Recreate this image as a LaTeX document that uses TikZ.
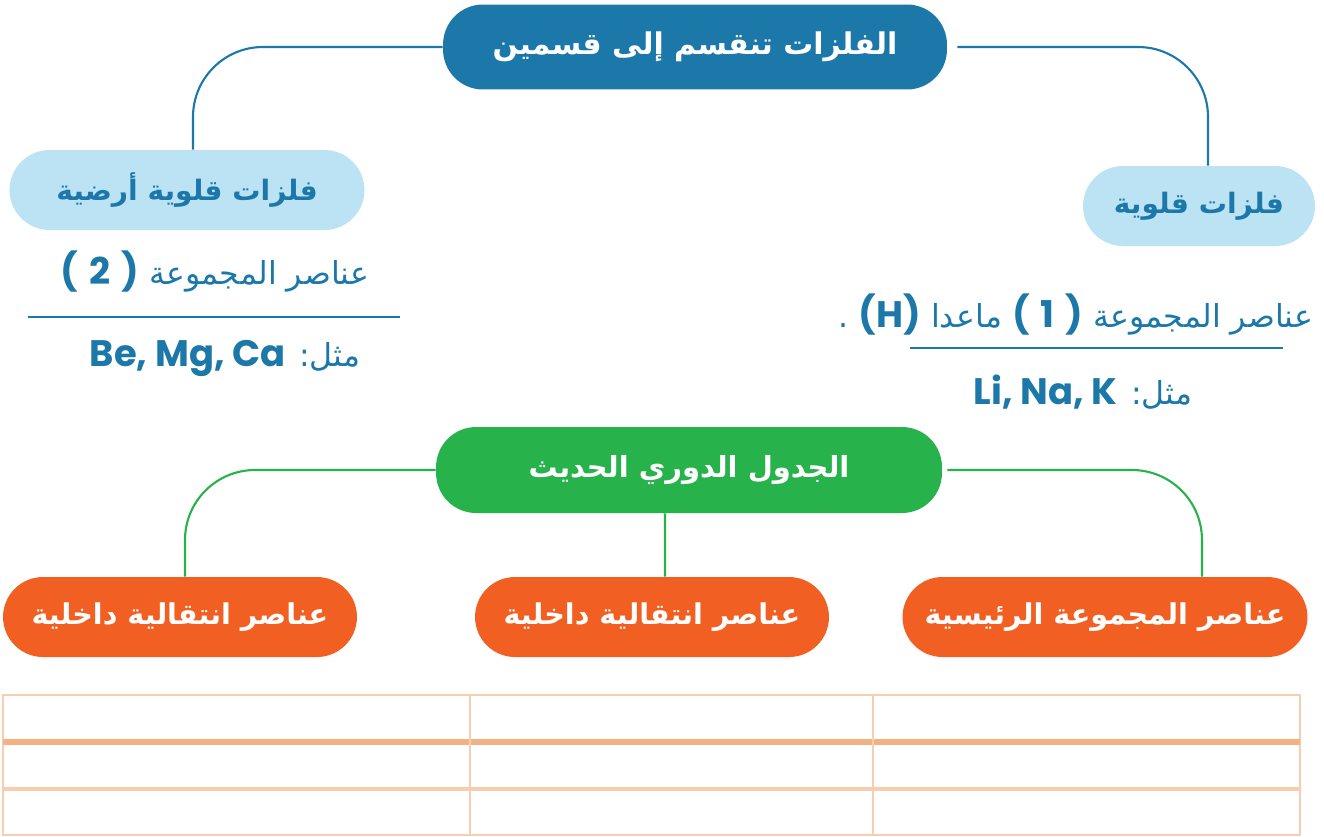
\documentclass[tikz,border=0pt]{standalone}
\usepackage{fontspec}
\usepackage{tikz}
\usetikzlibrary{positioning}
\TeXXeTstate=1
\newfontfamily\arabicfont[Script=Arabic]{DejaVu Sans}
\newfontfamily\latfont{Poppins}
\newcommand\latb{\latfont\bfseries\fontsize{21}{25}\selectfont}
\newcommand\gap{\hspace{0.3em}}
\definecolor{dblue}{HTML}{1D78AA}
\definecolor{lblue}{HTML}{BCE3F3}
\definecolor{mgreen}{HTML}{27B24B}
\definecolor{morange}{HTML}{F15F22}
\definecolor{peach}{HTML}{F9CDB0}
\definecolor{dpeach}{HTML}{F4B183}

\begin{document}
\begin{tikzpicture}[x=0.02cm,y=-0.02cm,
          box/.style={rounded corners=0.8cm,minimum height=1.6cm,inner sep=0pt,font=\arabicfont\bfseries\fontsize{16.3}{19}\selectfont},
          hd/.style={box,fill=dblue,text=white,font=\arabicfont\bfseries\fontsize{17}{20}\selectfont},
          sb/.style={box,fill=lblue,text=dblue,font=\arabicfont\bfseries\fontsize{16}{19}\selectfont},
          gr/.style={box,fill=mgreen,text=white,font=\arabicfont\bfseries\fontsize{16.5}{19}\selectfont},
          og/.style={box,fill=morange,text=white},
          bl/.style={draw=dblue,line width=1.2pt,rounded corners=1.4cm},
          gl/.style={draw=mgreen,line width=1.2pt,rounded corners=1.4cm},
          tx/.style={text=dblue,inner sep=0pt,font=\arabicfont\fontsize{18}{21}\selectfont}
        ]
        \useasboundingbox (0,0) rectangle (1324,836);
        \node[hd,minimum width=10.08cm,minimum height=1.7cm] (t) at (695,47) {\beginR الفلزات تنقسم إلى قسمين\endR};
        \node[sb,minimum width=7.1cm] (s1) at (187,190) {\beginR فلزات قلوية أرضية\endR};
        \node[sb,minimum width=4.64cm] (s2) at (1199,206) {\beginR فلزات قلوية\endR};
        \draw[bl] (t.west) -| ([xshift=0.12cm]s1.north);
        \draw[bl,shorten <=0.2cm] (t.east) -| ([xshift=0.18cm]s2.north);
        \node[tx] (a1) at (215,272) {\beginR عناصر المجموعة \beginL{\latb (\gap2\gap)}\endL\endR};
        \node[tx] (a2) at (225,358) {\beginR مثل: \beginL{\latb Be, Mg, Ca}\endL\endR};
        \draw[dblue,line width=0.8pt] (28,317) -- (400,317);
        \node[tx] (b1) at (1076,315) {\beginR عناصر المجموعة \beginL{\latb (\gap1\gap)}\endL{} ماعدا \beginL{\latb (H)}\endL{} \beginL.\endL\endR};
        \node[tx] (b2) at (1083,392) {\beginR مثل: \beginL{\latb Li, Na, K}\endL\endR};
        \draw[dblue,line width=0.8pt] (910,348) -- (1283,348);
        \node[gr,minimum width=10.12cm,minimum height=1.72cm] (g) at (689,470) {\beginR الجدول الدوري الحديث\endR};
        \node[og,minimum width=7.08cm] (o1) at (180,617) {\beginR عناصر انتقالية داخلية\endR};
        \node[og,minimum width=7.08cm] (o2) at (652,617) {\beginR عناصر انتقالية داخلية\endR};
        \node[og,minimum width=8.1cm] (o3) at (1105,617) {\beginR عناصر المجموعة الرئيسية\endR};
        \draw[gl] (g.west) -| ([xshift=0.1cm]o1.north);
        \draw[gl,shorten <=0.1cm] (g.east) -| ([xshift=1.94cm]o3.north);
        \draw[gl] ([xshift=-0.48cm]g.south) -- ([xshift=0.26cm]o2.north);
        \draw[peach,line width=1.6pt] (3,695) rectangle (1300,835);
        \draw[dpeach,line width=3pt] (3,742) -- (1300,742);
        \draw[peach,line width=2pt] (3,789) -- (1300,789);
        \foreach\x in {470,873}{\draw[peach,line width=1pt] (\x,695) -- (\x,835);}
      \end{tikzpicture}
\end{document}
